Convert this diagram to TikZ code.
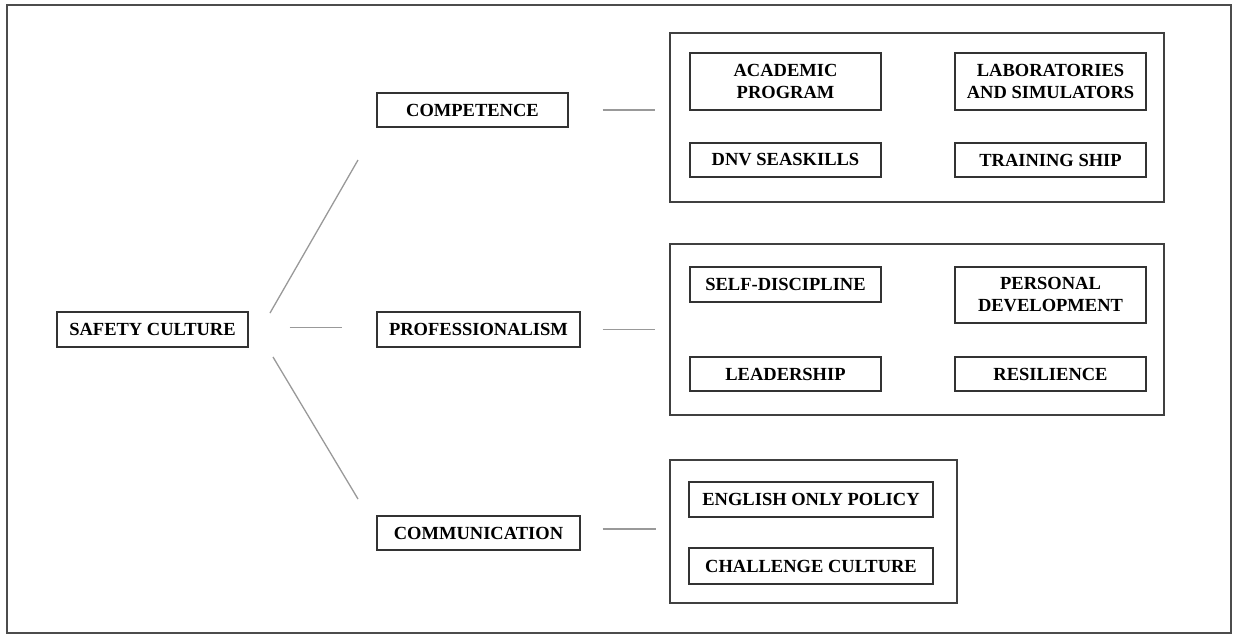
\documentclass[tikz,border=0pt]{standalone}
\usepackage{fontspec}
\setmainfont{Liberation Serif}
\begin{document}
\begin{tikzpicture}[x=1pt,y=-1pt,
  box/.style={draw=black!80,line width=1.4pt,inner sep=0pt,align=center,
    font=\fontsize{18.5}{22}\selectfont\bfseries,text=black},
  group/.style={draw=black!75,line width=1.4pt,inner sep=0pt},
  conn/.style={draw=black!40,line width=1.3pt}]
\useasboundingbox (0,0) rectangle (1233,635);
\draw[draw=black!70,line width=1.3pt] (7,5) rectangle (1231,633);

\node[box,minimum width=191pt,minimum height=35pt] (safety) at (152.5,329.5) {SAFETY CULTURE};
\node[box,minimum width=191pt,minimum height=34pt] (comp) at (472.5,110) {COMPETENCE};
\node[box,minimum width=203pt,minimum height=35pt] (prof) at (478.5,329.5) {PROFESSIONALISM};
\node[box,minimum width=203pt,minimum height=34pt] (comm) at (478.5,533) {COMMUNICATION};

\node[group,minimum width=494pt,minimum height=169pt] (g1) at (917,117.5) {};
\node[box,minimum width=191pt,minimum height=57pt] (acad) at (785.5,81.5) {ACADEMIC\\PROGRAM};
\node[box,minimum width=191pt,minimum height=57pt] (labs) at (1050.5,81.5) {LABORATORIES\\AND SIMULATORS};
\node[box,minimum width=191pt,minimum height=34pt] (dnv) at (785.5,160) {DNV SEASKILLS};
\node[box,minimum width=191pt,minimum height=34pt] (train) at (1050.5,160) {TRAINING SHIP};

\node[group,minimum width=494pt,minimum height=171pt] (g2) at (917,329.5) {};
\node[box,minimum width=191pt,minimum height=35pt] (self) at (785.5,284.5) {SELF-DISCIPLINE};
\node[box,minimum width=191pt,minimum height=56pt] (pers) at (1050.5,295) {PERSONAL\\DEVELOPMENT};
\node[box,minimum width=191pt,minimum height=34pt] (lead) at (785.5,374) {LEADERSHIP};
\node[box,minimum width=191pt,minimum height=34pt] (resil) at (1050.5,374) {RESILIENCE};

\node[group,minimum width=287pt,minimum height=143pt] (g3) at (813.5,531.5) {};
\node[box,minimum width=244pt,minimum height=35pt] (eng) at (811,499.5) {ENGLISH ONLY POLICY};
\node[box,minimum width=244pt,minimum height=36pt] (chal) at (811,566) {CHALLENGE CULTURE};

\coordinate (s1) at (270,313);
\coordinate (c1) at (358,160);
\coordinate (s3) at (273,357);
\coordinate (m1) at (358,499);
\draw[conn] (s1) -- (c1);
\draw[conn] (s3) -- (m1);
\draw[conn,shorten <=41pt,shorten >=34pt] ([yshift=2pt]safety.east) -- ([yshift=2pt]safety.east -| prof.west);
\draw[conn,shorten <=34pt,shorten >=14pt] (comp.east) -- (comp.east -| g1.west);
\draw[conn,shorten <=22pt,shorten >=14pt] (prof.east) -- (prof.east -| g2.west);
\draw[conn,shorten <=22pt,shorten >=13pt] ([yshift=4pt]comm.east) -- ([yshift=4pt]comm.east -| g3.west);
\end{tikzpicture}
\end{document}
